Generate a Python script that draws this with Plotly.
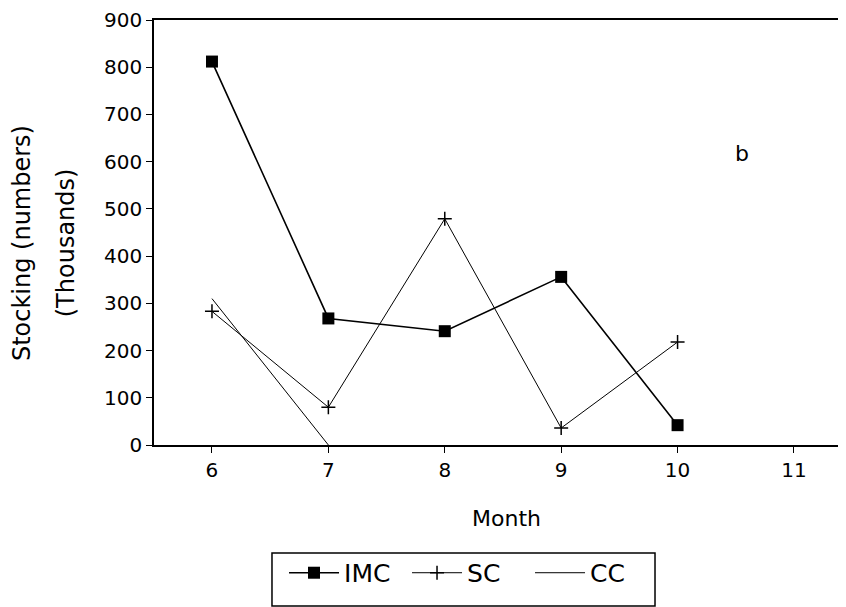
import plotly.graph_objects as go

months = [6, 7, 8, 9, 10]
imc = [812, 268, 241, 356, 42]
sc_months = [6, 7, 8, 9, 10]
sc = [283, 80, 479, 36, 218]
cc_months = [6, 7]
cc = [310, 0]
x_ticks = [6, 7, 8, 9, 10, 11]
y_ticks = [0, 100, 200, 300, 400, 500, 600, 700, 800, 900]

FONT = "DejaVu Sans"

fig = go.Figure()
fig.add_trace(go.Scatter(
    x=months, y=imc, name="IMC", mode="lines+markers",
    line=dict(color="black", width=1.6),
    marker=dict(symbol="square", size=12, color="black"),
))
fig.add_trace(go.Scatter(
    x=sc_months, y=sc, name="SC", mode="lines+markers",
    line=dict(color="black", width=1),
    marker=dict(symbol="cross-thin", size=10, color="black",
                line=dict(color="black", width=1.5)),
))
fig.add_trace(go.Scatter(
    x=cc_months, y=cc, name="CC", mode="lines",
    line=dict(color="black", width=1),
))

# page has an 8px body margin: figure sized/positioned to compensate
fig.update_layout(
    width=838, height=599,
    margin=dict(l=146, r=0, t=12, b=162, autoexpand=False),
    paper_bgcolor="white", plot_bgcolor="white",
    font=dict(family=FONT, color="black", size=20),
    showlegend=True,
    legend=dict(
        orientation="h",
        x=0.1879, xanchor="left",
        y=-0.247, yanchor="top",
        borderwidth=0,
        font=dict(family=FONT, size=25, color="black"),
        itemwidth=50,
        entrywidth=58, entrywidthmode="pixels",
        bgcolor="rgba(0,0,0,0)",
    ),
    xaxis=dict(
        range=[5.502, 11.447],
        tickmode="array", tickvals=x_ticks,
        ticktext=[str(v) for v in x_ticks],
        ticks="outside", ticklen=6, tickwidth=1, tickcolor="black",
        showline=True, linecolor="black", linewidth=2, mirror=True,
        showgrid=False, zeroline=False, automargin=False,
        tickfont=dict(family=FONT, size=20),
    ),
    yaxis=dict(
        range=[0, 900],
        tickmode="array", tickvals=y_ticks,
        ticktext=[str(v) for v in y_ticks],
        ticks="outside", ticklen=6, tickwidth=1, tickcolor="black",
        showline=True, linecolor="black", linewidth=1.5,
        showgrid=False, zeroline=False, automargin=False,
        ticklabeloverflow="allow",
        tickfont=dict(family=FONT, size=20),
    ),
    shapes=[
        dict(type="rect", xref="paper", yref="paper",
             x0=0.1705, x1=0.724, y0=-0.3788, y1=-0.2541,
             line=dict(color="black", width=1.5), fillcolor="rgba(0,0,0,0)"),
    ],
    annotations=[
        dict(text="Month", xref="paper", yref="paper", x=0.51, y=-0.1718,
             xanchor="center", yanchor="middle", showarrow=False,
             font=dict(family=FONT, size=22)),
        dict(text="Stocking (numbers)", xref="paper", yref="paper",
             x=-0.1908, y=0.475, textangle=-90,
             xanchor="center", yanchor="middle", showarrow=False,
             font=dict(family=FONT, size=24)),
        dict(text="(Thousands)", xref="paper", yref="paper",
             x=-0.127, y=0.475, textangle=-90,
             xanchor="center", yanchor="middle", showarrow=False,
             font=dict(family=FONT, size=24)),
        dict(text="b", xref="x", yref="y", x=10.553, y=617,
             xanchor="center", yanchor="middle", showarrow=False,
             font=dict(family=FONT, size=22)),
    ],
)

fig.write_html("out.html")
